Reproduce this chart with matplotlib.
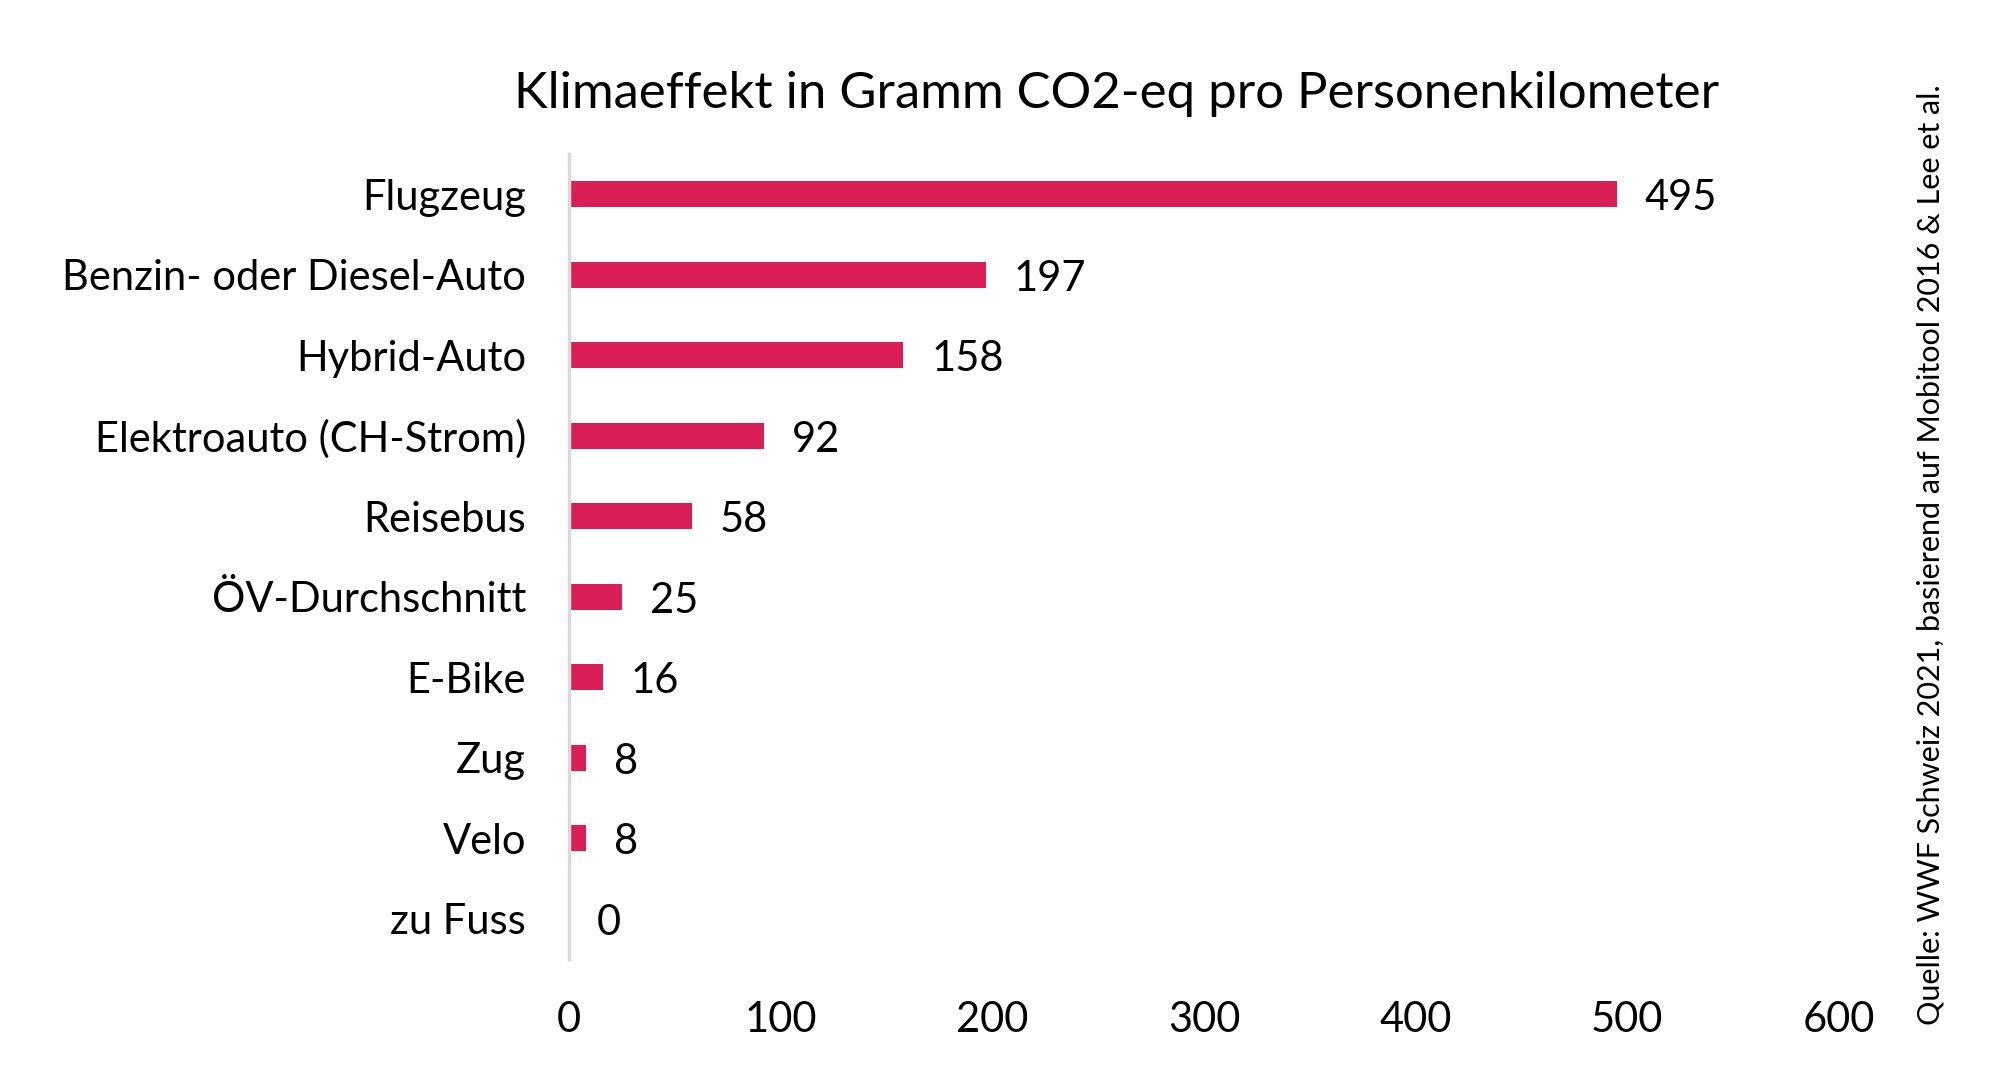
import matplotlib.pyplot as plt
import numpy as np

categories = ['Flugzeug', 'Benzin- oder Diesel-Auto', 'Hybrid-Auto',
              'Elektroauto (CH-Strom)', 'Reisebus', 'ÖV-Durchschnitt',
              'E-Bike', 'Zug', 'Velo', 'zu Fuss']
values = [495, 197, 158, 92, 58, 25, 16, 8, 8, 0]
xticks = [0, 100, 200, 300, 400, 500, 600]

title = 'Klimaeffekt in Gramm CO2-eq pro Personenkilometer'
source = 'Quelle: WWF Schweiz 2021, basierend auf Mobitool 2016 & Lee et al.'

bar_color = '#D91F55'
plt.rcParams['font.family'] = ['Lato', 'DejaVu Sans']

fig = plt.figure(figsize=(20, 10.79), dpi=100)
ax = fig.add_axes([0.2845, 0.1112, 0.635, 0.7461])

y = np.arange(len(categories))
ax.barh(y, values, height=0.32, color=bar_color)
ax.set_ylim(len(categories) - 0.5, -0.5)
ax.set_xlim(0, 600)

ax.set_yticks(y)
ax.set_yticklabels(categories, fontsize=30)
ax.set_xticks(xticks)
ax.set_xticklabels([str(t) for t in xticks], fontsize=30)
ax.tick_params(axis='both', length=0)
ax.tick_params(axis='y', pad=31)
ax.tick_params(axis='x', pad=30)

for s in ['top', 'right', 'bottom']:
    ax.spines[s].set_visible(False)
ax.spines['left'].set_color('#D9D9D9')
ax.spines['left'].set_linewidth(2.5)

for yi, v in zip(y, values):
    ax.annotate(str(v), (v, yi), xytext=(20, -3), textcoords='offset points',
                va='center', ha='left', fontsize=30)

fig.text(0.5585, 0.913, title, ha='center', va='center', fontsize=36.6)
fig.text(0.9655, 0.486, source, rotation=90, ha='center', va='center',
         fontsize=22)

fig.savefig('out.png', dpi=100, facecolor='white')
